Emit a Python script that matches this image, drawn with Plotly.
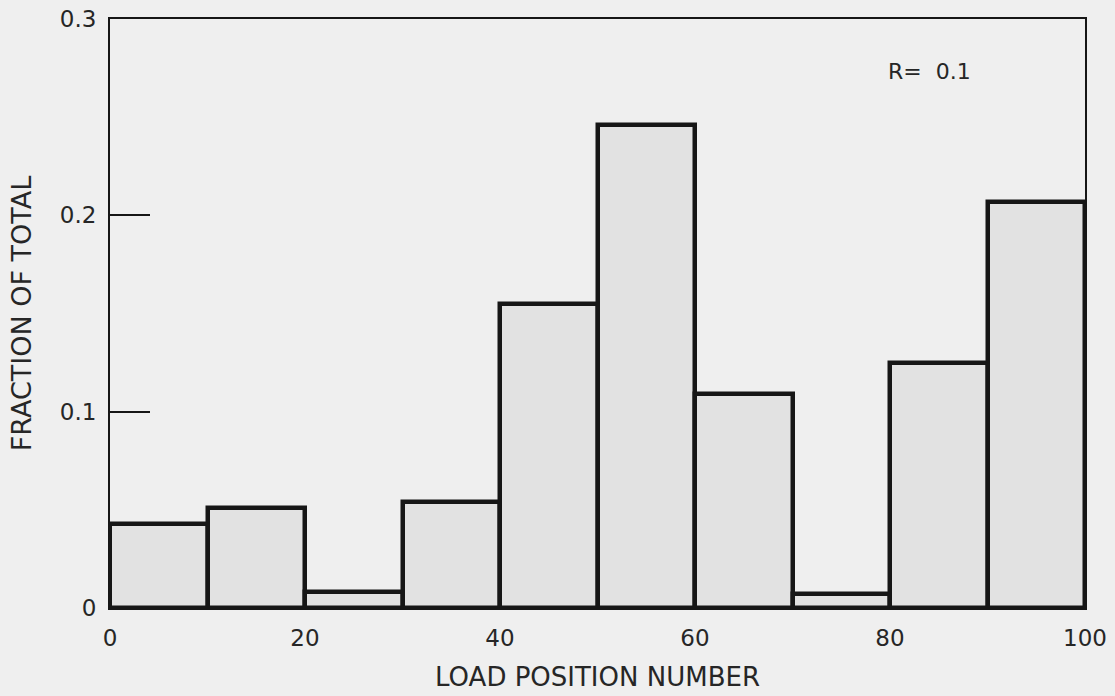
import plotly.graph_objects as go

# Histogram of load positions (bin edges every 10 positions)
bin_left = [0, 10, 20, 30, 40, 50, 60, 70, 80, 90]
bin_width = 10
fractions = [0.043, 0.051, 0.008, 0.054, 0.155, 0.246, 0.109, 0.007, 0.125, 0.207]

x_ticks = [0, 20, 40, 60, 80, 100]
y_ticks = [0, 0.1, 0.2, 0.3]
y_tick_text = ["0", "0.1", "0.2", "0.3"]

ink = "#161616"
text_col = "#262626"
paper = "#efefef"
fill = "#e2e2e2"
font_family = "DejaVu Sans, Liberation Sans, Arial, sans-serif"

centers = [b + bin_width / 2 for b in bin_left]

fig = go.Figure()
fig.add_trace(
    go.Bar(
        x=centers,
        y=fractions,
        width=bin_width,
        marker=dict(color=fill, line=dict(color=ink, width=4.5)),
        hoverinfo="x+y",
    )
)

fig.add_annotation(
    x=84.0, y=0.2735, xref="x", yref="y",
    text="R=&nbsp;&nbsp;0.1", showarrow=False,
    font=dict(size=22, color=text_col, family=font_family),
)

fig.update_layout(
    width=1115,
    height=696,
    margin=dict(l=110, r=30, t=19, b=88),
    paper_bgcolor=paper,
    plot_bgcolor=paper,
    showlegend=False,
    bargap=0,
    font=dict(family=font_family, color=text_col, size=23),
)

fig.update_xaxes(
    range=[0, 100],
    tickvals=x_ticks,
    ticktext=[str(v) for v in x_ticks],
    ticks="",
    ticklabelstandoff=8,
    automargin=False,
    showgrid=False,
    zeroline=False,
    showline=True,
    linecolor=ink,
    linewidth=2,
    mirror=True,
    tickfont=dict(size=23, color=text_col),
    title=dict(text="LOAD POSITION NUMBER", font=dict(size=26, color=text_col), standoff=18),
)

fig.update_yaxes(
    range=[0, 0.3],
    tickvals=y_ticks,
    ticktext=y_tick_text,
    ticks="inside",
    ticklen=40,
    tickwidth=2,
    tickcolor=ink,
    ticklabelstandoff=7,
    automargin=False,
    showgrid=False,
    zeroline=False,
    showline=True,
    linecolor=ink,
    linewidth=2,
    mirror=True,
    tickfont=dict(size=23, color=text_col),
    title=dict(text="FRACTION OF TOTAL", font=dict(size=27, color=text_col), standoff=20),
)

fig.write_html("out.html")
